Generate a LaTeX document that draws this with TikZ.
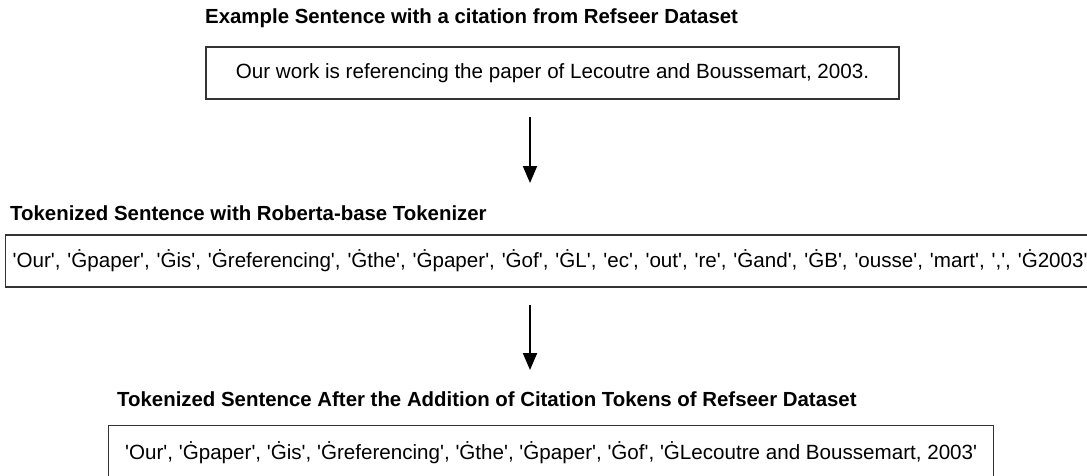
\documentclass[tikz,border=0pt]{standalone}
\usepackage{fontspec}
\setmainfont{Liberation Sans}[Ligatures=TeXOff]
\usetikzlibrary{arrows.meta}
\begin{document}
\begin{tikzpicture}[x=1pt,y=-1pt,
  title/.style={anchor=west,inner sep=0pt,font=\fontsize{20.4}{24}\selectfont\bfseries},
  box/.style={draw=black!80,line width=1.3pt,inner sep=0pt,font=\fontsize{20.6}{25}\selectfont},
  flow/.style={line width=2pt,-{Triangle[length=17pt,width=14pt]}}]
\clip (0,0) rectangle (1087,475);
\fill[white] (0,0) rectangle (1087,475);
\node[title] (t1) at (205,18) {Example Sentence with a citation from Refseer Dataset};
\node[box,minimum width=693pt,minimum height=52pt] (b1) at (552.5,73) {Our work is referencing the paper of Lecoutre and Boussemart, 2003.};
\coordinate (a1s) at (530,117);
\coordinate (a1e) at (530,183);
\draw[flow] (a1s) -- (a1e);
\node[title] (t2) at (10,213) {Tokenized Sentence with Roberta-base Tokenizer};
\node[box,anchor=west,minimum height=52pt,text width=1086pt,inner xsep=7pt,align=left] (b2) at (5,261) {'Our', 'Ġpaper', 'Ġis', 'Ġreferencing', 'Ġthe', 'Ġpaper', 'Ġof', 'ĠL', 'ec', 'out', 're', 'Ġand', 'ĠB', 'ousse', 'mart', ',', 'Ġ2003'};
\coordinate (a2s) at (530,305);
\coordinate (a2e) at (530,370);
\draw[flow] (a2s) -- (a2e);
\node[title] (t3) at (117,399) {Tokenized Sentence After the Addition of Citation Tokens of Refseer Dataset};
\node[box,anchor=north west,minimum width=885pt,minimum height=54pt] (b3) at (108,425) {'Our', 'Ġpaper', 'Ġis', 'Ġreferencing', 'Ġthe', 'Ġpaper', 'Ġof', 'ĠLecoutre and Boussemart, 2003'};
\end{tikzpicture}
\end{document}
